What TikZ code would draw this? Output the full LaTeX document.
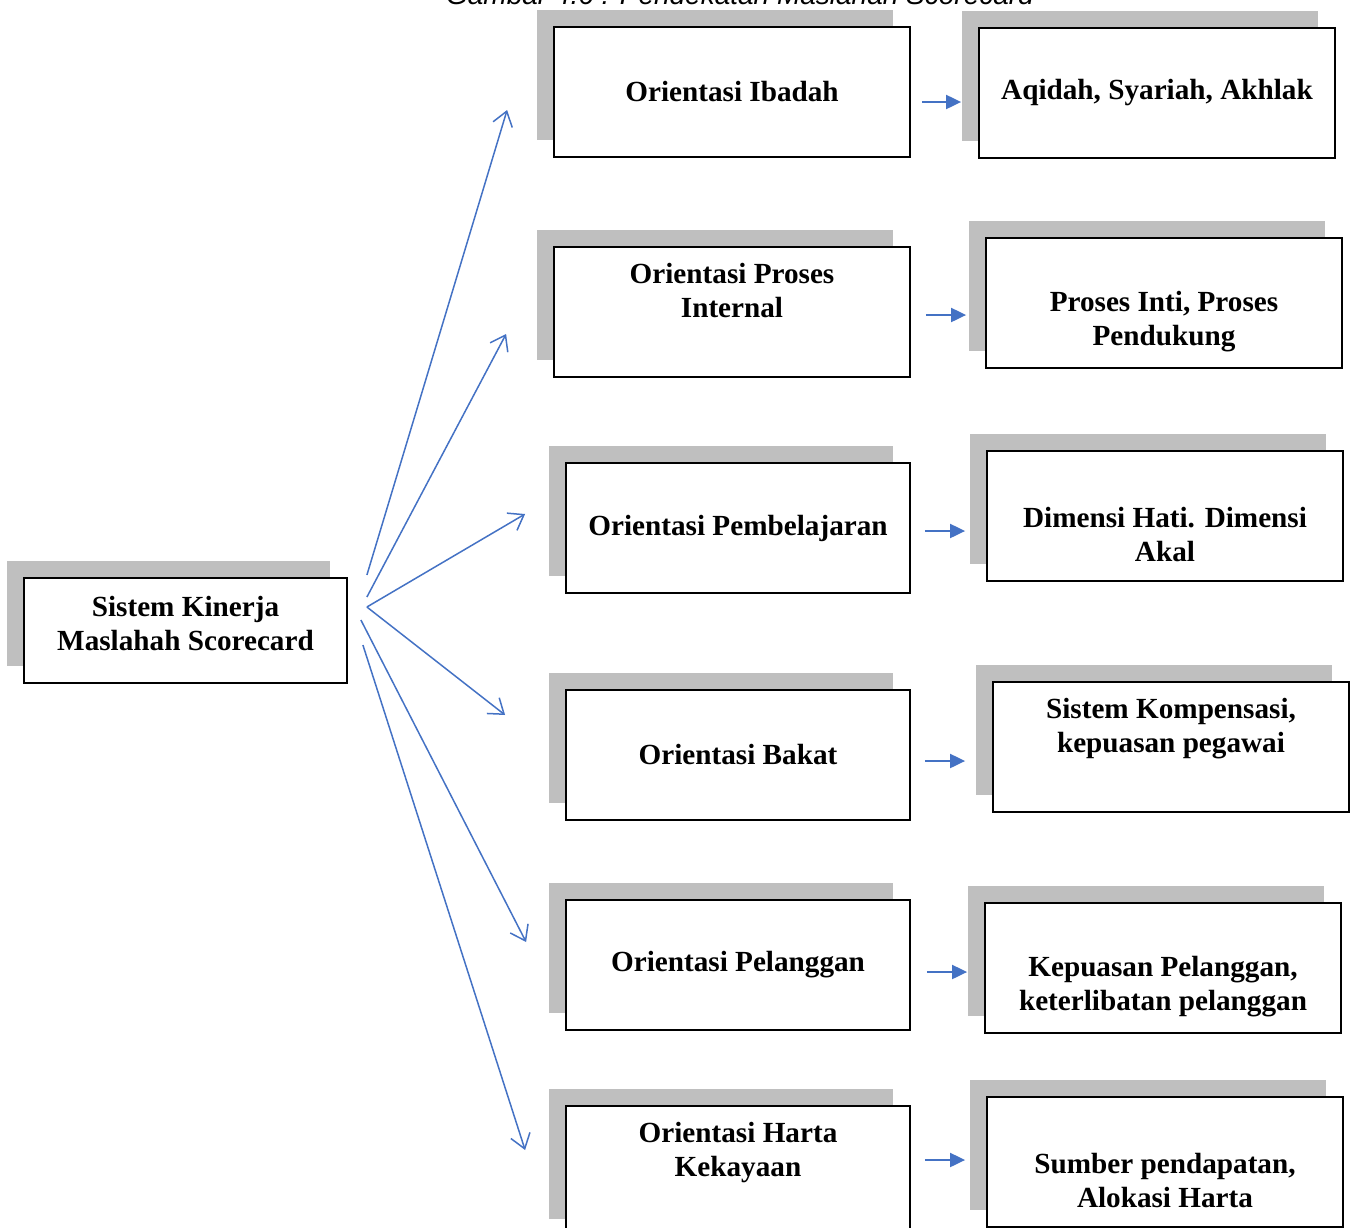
\documentclass[tikz,border=0pt]{standalone}
\usepackage{fontspec}
\setmainfont{Liberation Serif}
\newfontfamily\titlefont{Liberation Sans}
\usetikzlibrary{calc,shadows,arrows.meta}

\definecolor{arrowblue}{RGB}{68,114,196}
\definecolor{shadowgray}{RGB}{191,191,191}

\begin{document}
\begin{tikzpicture}[x=0.5pt,y=-0.5pt,
	box/.style={rectangle,draw,line width=0.9pt,fill=white,inner sep=0pt,align=center,
		font=\fontsize{14.6}{17}\selectfont\bfseries,
		general shadow={fill=shadowgray,shadow xshift=-8.5pt,shadow yshift=8.5pt}},
	widebox/.style={box,minimum width=178pt,minimum height=65pt},
	narrowbox/.style={box,minimum width=172pt,minimum height=65pt},
	fanarrow/.style={-{Straight Barb[length=7pt,width=10pt]},arrowblue,line width=0.75pt},
	smallarrow/.style={-{Triangle[length=7.5pt,width=7pt]},arrowblue,line width=1pt}]

	\useasboundingbox (0,0) rectangle (1350,1227);
	\clip (0,0) rectangle (1350,1227);

	\node[anchor=base,font=\titlefont\itshape\fontsize{14}{17}\selectfont] (title) at (740,4) {Gambar 4.6 : Pendekatan Maslahah Scorecard};

	\node[box,minimum width=161.5pt,minimum height=52.5pt] (sk) at (185.5,630.5) {Sistem Kinerja\\Maslahah Scorecard\\[-15pt]\strut};

	\node[widebox] (o1) at (732,92) {Orientasi Ibadah};
	\node[widebox] (o2) at (732,312) {Orientasi Proses\\Internal\\\strut};
	\node[narrowbox] (o3) at (738,528) {Orientasi Pembelajaran};
	\node[narrowbox] (o4) at (738,755) {Orientasi Bakat};
	\node[narrowbox] (o5) at (738,965) {Orientasi Pelanggan};
	\node[narrowbox] (o6) at (738,1171) {Orientasi Harta\\Kekayaan\\\strut};

	\node[widebox] (r1) at (1157,93) {Aqidah, Syariah, Akhlak};
	\node[widebox] (r2) at (1164,303) {\strut\\Proses Inti, Proses\\Pendukung};
	\node[widebox] (r3) at (1165,516) {\strut\\Dimensi Hati. Dimensi\\Akal};
	\node[widebox] (r4) at (1171,747) {Sistem Kompensasi,\\kepuasan pegawai\\\strut};
	\node[widebox] (r5) at (1163,968) {\strut\\Kepuasan Pelanggan,\\keterlibatan pelanggan};
	\node[widebox] (r6) at (1165,1162) {\strut\\Sumber pendapatan,\\Alokasi Harta};

	% fan from the main box
	\draw[fanarrow] ($(sk.east)+(19,-55.5)$) -- ($(o1.west)+(-46,18)$);
	\draw[fanarrow] ($(sk.east)+(19,-33.5)$) -- ($(o2.west)+(-47,22)$);
	\draw[fanarrow] ($(sk.east)+(19,-23.5)$) -- ($(o3.west)+(-40,-14)$);
	\draw[fanarrow] ($(sk.east)+(19,-23.5)$) -- ($(o4.west)+(-60,-40)$);
	\draw[fanarrow] ($(sk.east)+(13,-10.5)$) -- ($(o5.west)+(-39,-23)$);
	\draw[fanarrow] ($(sk.east)+(15,14.5)$) -- ($(o6.west)+(-40,-21)$);

	\draw[smallarrow] ($(o1.east)+(11,10)$) -- ($(r1.west)+(-17,9)$);
	\draw[smallarrow] ($(o2.east)+(15,3)$) -- ($(r2.west)+(-19,12)$);
	\draw[smallarrow] ($(o3.east)+(14,3)$) -- ($(r3.west)+(-21,15)$);
	\draw[smallarrow] ($(o4.east)+(14,6)$) -- ($(r4.west)+(-27,14)$);
	\draw[smallarrow] ($(o5.east)+(16,7)$) -- ($(r5.west)+(-17,4)$);
	\draw[smallarrow] ($(o6.east)+(14,-11)$) -- ($(r6.west)+(-21,-2)$);

\end{tikzpicture}
\end{document}
